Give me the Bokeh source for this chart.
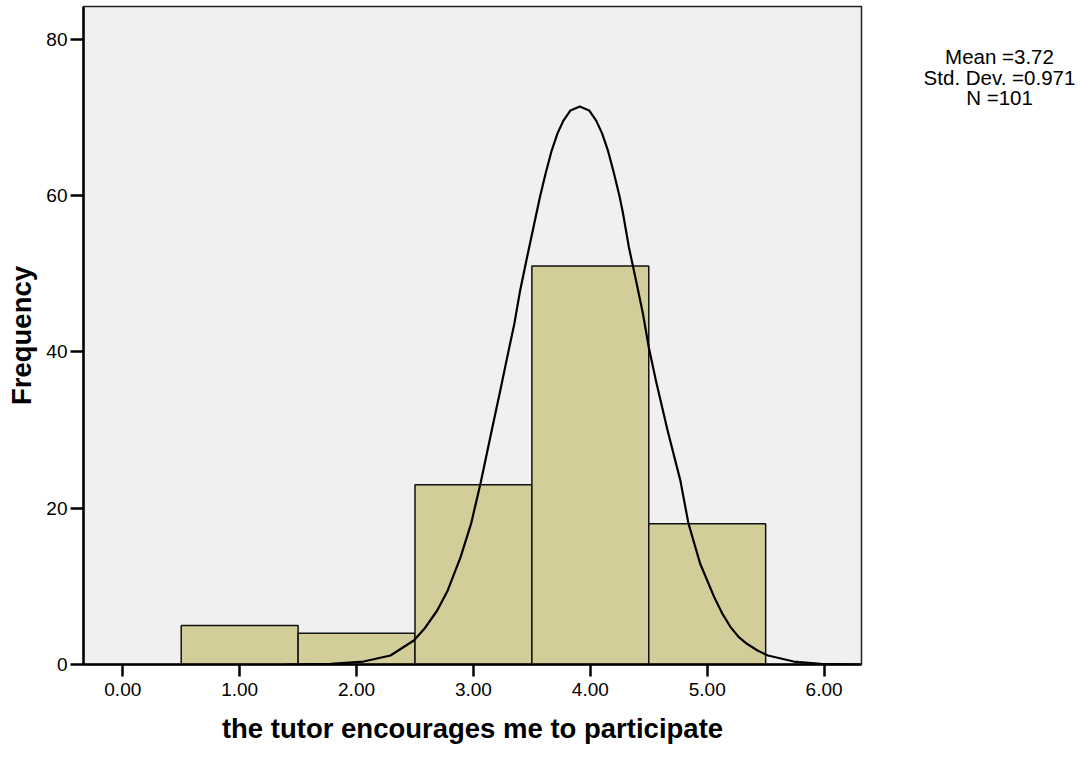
from bokeh.plotting import figure
from bokeh.models import Range1d, FixedTicker, ColumnDataSource
from bokeh.layouts import row
from bokeh.embed import file_html
from bokeh.resources import INLINE

# ---- data ----
bin_centers = [1.0, 2.0, 3.0, 4.0, 5.0]
frequencies = [5, 4, 23, 51, 18]
bin_width = 1.0

curve_x = [1.40, 1.78, 2.06, 2.29, 2.38, 2.49, 2.58, 2.69, 2.78, 2.89, 2.98, 3.06,
           3.15, 3.23, 3.29, 3.35, 3.40, 3.46, 3.52, 3.57, 3.62, 3.67, 3.72, 3.77,
           3.83, 3.91, 3.99, 4.05, 4.10, 4.15, 4.20, 4.25, 4.28, 4.33, 4.39, 4.45,
           4.50, 4.56, 4.66, 4.77, 4.84, 4.94, 5.06, 5.13, 5.20, 5.27, 5.34, 5.43,
           5.52, 5.74, 5.97, 6.30]
curve_y = [0.0, 0.09, 0.38, 1.15, 2.01, 3.07, 4.57, 6.91, 9.48, 13.74, 18.02, 23.14,
           29.5, 35.1, 39.4, 43.6, 47.9, 52.2, 56.4, 59.9, 63.0, 65.8, 68.0, 69.6,
           70.9, 71.4, 70.9, 69.6, 68.0, 65.8, 63.0, 59.9, 57.7, 53.4, 49.2, 44.9,
           40.6, 36.4, 30.0, 23.56, 18.02, 12.89, 8.62, 6.49, 4.78, 3.50, 2.65, 1.79,
           1.15, 0.38, 0.09, 0.0]

x_ticks = [0, 1, 2, 3, 4, 5, 6]
x_tick_labels = ["0.00", "1.00", "2.00", "3.00", "4.00", "5.00", "6.00"]
y_ticks = [0, 20, 40, 60, 80]

x_title = "the tutor encourages me to participate"
y_title = "Frequency"
stats_lines = ["Mean =3.72", "Std. Dev. =0.971", "N =101"]

FONT = "Liberation Sans"
H = 754
TOP, BOTTOM = 6, 90

p = figure(width=865, height=H, output_backend="svg", toolbar_location=None,
           x_range=Range1d(-0.336, 6.32), y_range=Range1d(0, 84.2),
           min_border_left=83, min_border_right=4, min_border_top=TOP,
           min_border_bottom=BOTTOM)

p.background_fill_color = "#f0f0f0"
p.border_fill_color = "white"
p.outline_line_color = "#222222"
p.outline_line_width = 1.5
p.grid.visible = False

bars = ColumnDataSource(dict(
    left=[c - bin_width / 2 for c in bin_centers],
    right=[c + bin_width / 2 for c in bin_centers],
    top=frequencies,
    bottom=[0] * len(frequencies),
))
p.quad(left="left", right="right", top="top", bottom="bottom", source=bars,
       fill_color="#d3ce99", line_color="#111111", line_width=1.5)

p.line(curve_x, curve_y, line_color="black", line_width=2.2, line_join="round")

# axes
xa = p.xaxis[0]
xa.ticker = FixedTicker(ticks=x_ticks)
xa.major_label_overrides = {t: l for t, l in zip(x_ticks, x_tick_labels)}
xa.axis_label = x_title
xa.axis_label_text_font = FONT
xa.axis_label_text_font_style = "bold"
xa.axis_label_text_font_size = "27.5px"
xa.axis_label_text_color = "black"
xa.axis_label_standoff = 14
xa.major_label_text_font = FONT
xa.major_label_text_font_size = "19px"
xa.major_label_standoff = 6
xa.major_tick_out = 12
xa.major_tick_in = 0
xa.minor_tick_out = 0
xa.minor_tick_in = 0
xa.axis_line_width = 2.5
xa.major_tick_line_width = 2.5
xa.axis_line_color = "black"
xa.major_label_text_color = "black"

ya = p.yaxis[0]
ya.ticker = FixedTicker(ticks=y_ticks)
ya.axis_label = y_title
ya.axis_label_text_font = FONT
ya.axis_label_text_font_style = "bold"
ya.axis_label_text_font_size = "27.5px"
ya.axis_label_text_color = "black"
ya.axis_label_standoff = 6
ya.major_label_text_font = FONT
ya.major_label_text_font_size = "19px"
ya.major_label_standoff = 3
ya.major_tick_out = 13
ya.major_tick_in = 0
ya.minor_tick_out = 0
ya.minor_tick_in = 0
ya.axis_line_width = 2.5
ya.major_tick_line_width = 2.5
ya.axis_line_color = "black"
ya.major_label_text_color = "black"

# statistics panel to the right of the plot (page-pixel coordinates, y downwards)
s = figure(width=210, height=H, output_backend="svg", toolbar_location=None,
           x_range=Range1d(0, 210), y_range=Range1d(H - BOTTOM, TOP),
           x_axis_type=None, y_axis_type=None,
           min_border_left=0, min_border_right=0, min_border_top=TOP,
           min_border_bottom=BOTTOM, outline_line_color=None)
s.grid.visible = False
s.background_fill_color = "white"
s.border_fill_color = "white"
s.text(x=[134, 134, 134], y=[56, 76.5, 97], text=stats_lines,
       text_align="center", text_baseline="middle",
       text_font={"value": FONT}, text_font_size={"value": "20.5px"},
       text_color="black")

open("out.html", "w").write(file_html(row(p, s), INLINE))
